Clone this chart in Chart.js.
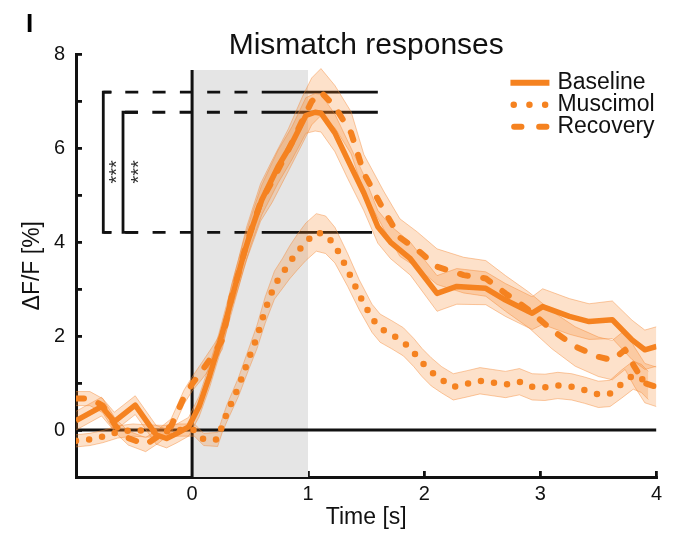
<!DOCTYPE html>
<html>
<head>
<meta charset="utf-8">
<title>Mismatch responses</title>
<script src="https://cdn.jsdelivr.net/npm/chart.js@4/dist/chart.umd.min.js"></script>
<style>
  html, body { margin: 0; padding: 0; background: #fff; }
  #wrap { width: 673px; height: 534px; position: relative; }
</style>
</head>
<body>
<div id="wrap"><canvas id="c" width="673" height="534"></canvas></div>
<script>
// ---- data: mean ΔF/F [%] and SEM per condition, time in seconds ----
const seriesNames = ['Baseline', 'Muscimol', 'Recovery'];

const timeBaseline = [-1.0, -0.78, -0.67, -0.49, -0.31, -0.22, -0.13, -0.03,
  0.06, 0.15, 0.23, 0.30, 0.37, 0.44, 0.51, 0.60,
  0.74, 0.86, 0.98, 1.06, 1.11, 1.23, 1.34, 1.48,
  1.60, 1.71, 1.88, 2.11, 2.28, 2.53, 2.70, 2.93,
  3.02, 3.25, 3.42, 3.62, 3.79, 3.90, 4.0];
const meanBaseline = [0.2, 0.5, 0.18, 0.53, -0.1, -0.18, -0.07, 0.07,
  0.5, 1.15, 1.8, 2.42, 3.06, 3.7, 4.26, 4.9,
  5.61, 6.11, 6.7, 6.77, 6.75, 6.33, 5.76, 5.05,
  4.33, 4.0, 3.65, 2.91, 3.06, 3.02, 2.77, 2.49,
  2.63, 2.42, 2.31, 2.35, 1.92, 1.71, 1.78];
const semBaseline = [0.2, 0.2, 0.2, 0.2, 0.2, 0.2, 0.2, 0.2,
  0.22, 0.25, 0.25, 0.28, 0.3, 0.3, 0.3, 0.32,
  0.35, 0.35, 0.38, 0.4, 0.4, 0.4, 0.4, 0.38,
  0.35, 0.35, 0.35, 0.38, 0.38, 0.35, 0.35, 0.35,
  0.38, 0.38, 0.38, 0.4, 0.42, 0.42, 0.42];

const timeMuscimol = [-1.0, -0.88, -0.77, -0.64, -0.51, -0.38, -0.24, -0.11, 0.02, 0.10,
  0.22, 0.26, 0.30, 0.40, 0.48, 0.56, 0.63, 0.71,
  0.78, 0.84, 0.91, 0.98, 1.07, 1.15, 1.23, 1.34,
  1.44, 1.55, 1.62, 1.72, 1.82, 1.91, 1.98, 2.06,
  2.15, 2.25, 2.36, 2.48, 2.59, 2.70, 2.82, 2.93,
  3.04, 3.15, 3.27, 3.38, 3.50, 3.60, 3.70, 3.80, 3.87, 3.93];
const meanMuscimol = [-0.23, -0.2, -0.14, -0.04, 0.0, -0.02, -0.03, 0.0, 0.0, -0.2,
  -0.2, 0.1, 0.36, 0.92, 1.46, 1.99, 2.56, 3.09,
  3.34, 3.57, 3.8, 4.01, 4.21, 4.16, 3.94, 3.41,
  2.88, 2.38, 2.17, 2.03, 1.88, 1.65, 1.44, 1.24,
  1.07, 0.92, 0.98, 1.05, 1.01, 0.97, 1.03, 0.92,
  0.91, 0.95, 0.92, 0.85, 0.76, 0.78, 0.98, 1.17, 1.1, 0.95];
const semMuscimol = [0.13, 0.13, 0.13, 0.13, 0.13, 0.13, 0.13, 0.13, 0.13, 0.13,
  0.15, 0.15, 0.18, 0.2, 0.22, 0.25, 0.28, 0.3,
  0.32, 0.35, 0.38, 0.4, 0.4, 0.4, 0.38, 0.35,
  0.32, 0.3, 0.3, 0.3, 0.3, 0.3, 0.3, 0.3,
  0.28, 0.28, 0.28, 0.28, 0.28, 0.28, 0.28, 0.28,
  0.28, 0.28, 0.28, 0.28, 0.28, 0.28, 0.3, 0.3, 0.3, 0.3];

const timeRecovery = [-1.0, -0.88, -0.77, -0.66, -0.55, -0.40, -0.29, -0.18, -0.07, 0.0,
  0.09, 0.19, 0.26, 0.34, 0.40, 0.47, 0.59, 0.69,
  0.83, 0.95, 1.03, 1.11, 1.23, 1.37, 1.48, 1.65,
  1.79, 1.94, 2.11, 2.34, 2.53, 2.70, 2.90, 3.10,
  3.30, 3.50, 3.62, 3.73, 3.81, 3.90, 4.0];
const meanRecovery = [0.67, 0.67, 0.52, 0.09, -0.17, -0.31, -0.13, 0.09, 0.7, 0.98,
  1.28, 1.63, 1.92, 2.84, 3.34, 3.98, 4.85, 5.3,
  5.97, 6.6, 7.0, 7.2, 6.89, 6.33, 5.47, 4.69,
  4.1, 3.84, 3.48, 3.3, 3.23, 2.91, 2.56, 2.13,
  1.78, 1.56, 1.49, 1.71, 1.35, 1.0, 0.92];
const semRecovery = [0.15, 0.15, 0.15, 0.15, 0.15, 0.15, 0.15, 0.15, 0.15, 0.15,
  0.18, 0.2, 0.2, 0.25, 0.3, 0.35, 0.4, 0.45,
  0.45, 0.5, 0.5, 0.5, 0.45, 0.45, 0.4, 0.4,
  0.4, 0.38, 0.38, 0.38, 0.38, 0.38, 0.38, 0.4,
  0.42, 0.42, 0.42, 0.42, 0.42, 0.42, 0.42];

// axis ticks
const xTickValues = [0, 1, 2, 3, 4];
const yTickValues = [-1, 0, 1, 2, 3, 4, 5, 6, 7, 8];
const yLabelledTicks = [0, 2, 4, 6, 8];

// stimulus window [s]
const stimulusWindow = [0, 1];

// ---- styling / layout ----
const FONT = '"Liberation Sans", Arial, Helvetica, sans-serif';
const INK = '#111';
const ORANGE = 'rgb(245,130,32)';
const BAND_FILL = 'rgba(245,130,32,0.24)';
const BAND_EDGE = 'rgba(245,140,60,0.45)';
const WINDOW_TOP = 7.67;
const bracketLayout = {
  outerX: -0.765, innerX: -0.595,
  outerTickEnd: -0.693, innerTickEnd: -0.467,
  dashEnd: 0.6, solidEnd: [1.6, 1.6, 1.55],
  dash: [13, 14.3], outerPhase: 5.3, innerPhase: 25.3,
  starY: 5.5
};

const peakRecovery = Math.max(...meanRecovery);
const peakBaseline = Math.max(...meanBaseline);
const peakMuscimol = Math.max(...meanMuscimol);

const xy = (t, v) => t.map((x, i) => ({ x, y: v[i] }));
const shifted = (t, v, s, sign) => t.map((x, i) => ({ x, y: v[i] + sign * s[i] }));

const meanLine = (label, data, extra) => Object.assign({
  label, data, borderColor: ORANGE, borderWidth: 5.5, pointRadius: 0,
  fill: false, borderJoinStyle: 'round', borderCapStyle: 'butt'
}, extra);
const bandUpper = (t, v, s) => ({
  data: shifted(t, v, s, 1), borderColor: BAND_EDGE, borderWidth: 1,
  backgroundColor: BAND_FILL, fill: '+1', pointRadius: 0
});
const bandLower = (t, v, s) => ({
  data: shifted(t, v, s, -1), borderColor: BAND_EDGE, borderWidth: 1,
  fill: false, pointRadius: 0
});
const blackLine = (data, extra) => Object.assign({
  data, borderColor: INK, borderWidth: 2.8, pointRadius: 0, fill: false,
  borderCapStyle: 'butt', borderJoinStyle: 'miter'
}, extra);

const B = bracketLayout;
const datasets = [
  meanLine(seriesNames[0], xy(timeBaseline, meanBaseline)),
  meanLine(seriesNames[1], xy(timeMuscimol, meanMuscimol), { borderDash: [0, 13.2], borderCapStyle: 'round', borderWidth: 6.5 }),
  meanLine(seriesNames[2], xy(timeRecovery, meanRecovery), { borderDash: [8, 15.5], borderCapStyle: 'round', borderWidth: 6 }),

  bandUpper(timeBaseline, meanBaseline, semBaseline),
  bandLower(timeBaseline, meanBaseline, semBaseline),
  bandUpper(timeMuscimol, meanMuscimol, semMuscimol),
  bandLower(timeMuscimol, meanMuscimol, semMuscimol),
  bandUpper(timeRecovery, meanRecovery, semRecovery),
  bandLower(timeRecovery, meanRecovery, semRecovery),

  // zero line and stimulus onset
  blackLine([{ x: -1, y: 0 }, { x: 4, y: 0 }], { borderWidth: 3 }),
  blackLine([{ x: stimulusWindow[0], y: -1 }, { x: stimulusWindow[0], y: WINDOW_TOP }], { borderWidth: 3 }),

  // significance brackets
  blackLine([{ x: B.outerTickEnd, y: peakRecovery }, { x: B.outerX, y: peakRecovery },
             { x: B.outerX, y: peakMuscimol }, { x: B.outerTickEnd, y: peakMuscimol }]),
  blackLine([{ x: B.innerTickEnd, y: peakBaseline }, { x: B.innerX, y: peakBaseline },
             { x: B.innerX, y: peakMuscimol }, { x: B.innerTickEnd, y: peakMuscimol }]),
  blackLine([{ x: B.outerX, y: peakRecovery }, { x: B.dashEnd, y: peakRecovery }], { borderDash: B.dash, borderDashOffset: B.outerPhase }),
  blackLine([{ x: B.innerX, y: peakBaseline }, { x: B.dashEnd, y: peakBaseline }], { borderDash: B.dash, borderDashOffset: B.innerPhase }),
  blackLine([{ x: B.outerX, y: peakMuscimol }, { x: B.dashEnd, y: peakMuscimol }], { borderDash: B.dash, borderDashOffset: B.outerPhase }),
  blackLine([{ x: B.dashEnd, y: peakRecovery }, { x: B.solidEnd[0], y: peakRecovery }]),
  blackLine([{ x: B.dashEnd, y: peakBaseline }, { x: B.solidEnd[1], y: peakBaseline }]),
  blackLine([{ x: B.dashEnd, y: peakMuscimol }, { x: B.solidEnd[2], y: peakMuscimol }]),

  // shaded stimulus window
  { data: [{ x: stimulusWindow[0], y: WINDOW_TOP }, { x: stimulusWindow[1], y: WINDOW_TOP }],
    borderWidth: 0, pointRadius: 0, fill: 'start', backgroundColor: '#e5e5e5' }
];

// legend key drawn in the upper right of the plot
const legendKey = {
  id: 'legendKey',
  afterDatasetsDraw(chart) {
    const { ctx, chartArea } = chart;
    const styles = [
      { dash: [], cap: 'butt', x0: -146, x1: -107, w: 6 },
      { dash: [0, 15.7], cap: 'round', x0: -142.7, x1: -110, w: 6.5 },
      { dash: [7.3, 17.7], cap: 'round', x0: -142.3, x1: -110, w: 6 }
    ];
    ctx.save();
    seriesNames.forEach((name, i) => {
      const y = chartArea.top + 28.2 + i * 22;
      const st = styles[i];
      ctx.beginPath();
      ctx.setLineDash(st.dash);
      ctx.lineCap = st.cap;
      ctx.lineWidth = st.w;
      ctx.strokeStyle = ORANGE;
      ctx.moveTo(chartArea.right + st.x0, y);
      ctx.lineTo(chartArea.right + st.x1, y);
      ctx.stroke();
      ctx.setLineDash([]);
      ctx.fillStyle = INK;
      ctx.font = '23px ' + FONT;
      ctx.textAlign = 'left';
      ctx.textBaseline = 'middle';
      ctx.fillText(name, chartArea.right - 99, y);
    });
    ctx.restore();
  }
};

// significance stars and panel letter
const annotations = {
  id: 'annotations',
  afterDraw(chart) {
    const { ctx, scales: { x, y } } = chart;
    ctx.save();
    ctx.font = '20px ' + FONT;
    ctx.fillStyle = '#333';
    ctx.textAlign = 'center';
    ctx.textBaseline = 'middle';
    [B.outerX, B.innerX].forEach((bx, i) => {
      ctx.save();
      ctx.translate(x.getPixelForValue(bx) + (i === 0 ? 13.8 : 16.8), y.getPixelForValue(B.starY));
      ctx.rotate(-Math.PI / 2);
      ctx.fillText('***', 0, 0);
      ctx.restore();
    });
    ctx.font = 'bold 26px ' + FONT;
    ctx.fillStyle = '#000';
    ctx.textAlign = 'left';
    ctx.textBaseline = 'alphabetic';
    ctx.fillText('I', 26, 32);
    ctx.restore();
  }
};

new Chart(document.getElementById('c'), {
  type: 'line',
  data: { datasets },
  options: {
    responsive: false,
    animation: false,
    devicePixelRatio: 1,
    events: [],
    layout: { padding: { left: 0, right: 11, top: 0, bottom: 0 } },
    plugins: {
      legend: { display: false },
      tooltip: { enabled: false },
      title: {
        display: true, text: 'Mismatch responses', fullSize: false, color: INK,
        font: { family: FONT, size: 30, weight: 'normal', lineHeight: 0.6 },
        padding: { top: 36.5, bottom: 0 }
      }
    },
    scales: {
      x: {
        type: 'linear', min: -1, max: 4,
        afterBuildTicks: s => { s.ticks = xTickValues.map(v => ({ value: v })); },
        afterFit: s => { s.height = 57; },
        grid: { drawOnChartArea: false, drawTicks: true, tickLength: -6, color: INK, lineWidth: 2.8 },
        border: { color: INK, width: 3 },
        ticks: { autoSkip: false, maxRotation: 0, padding: 11, color: INK,
                 font: { family: FONT, size: 20 }, callback: v => String(v) },
        title: { display: true, text: 'Time [s]', color: INK,
                 font: { family: FONT, size: 23 }, padding: { top: 0, bottom: 2.8 } }
      },
      y: {
        type: 'linear', min: -1, max: 8,
        afterBuildTicks: s => { s.ticks = yTickValues.map(v => ({ value: v })); },
        afterFit: s => { s.width = 76; },
        grid: { drawOnChartArea: false, drawTicks: true, tickLength: -6, color: INK, lineWidth: 2.8 },
        border: { color: INK, width: 3 },
        ticks: { autoSkip: false, padding: 17, color: INK, font: { family: FONT, size: 20 },
                 callback: v => (yLabelledTicks.includes(v) ? String(v) : '') },
        title: { display: true, text: 'ΔF/F [%]', color: INK,
                 font: { family: FONT, size: 23 }, padding: { top: 18.8, bottom: 0 } }
      }
    }
  },
  plugins: [legendKey, annotations]
});
</script>
</body>
</html>
